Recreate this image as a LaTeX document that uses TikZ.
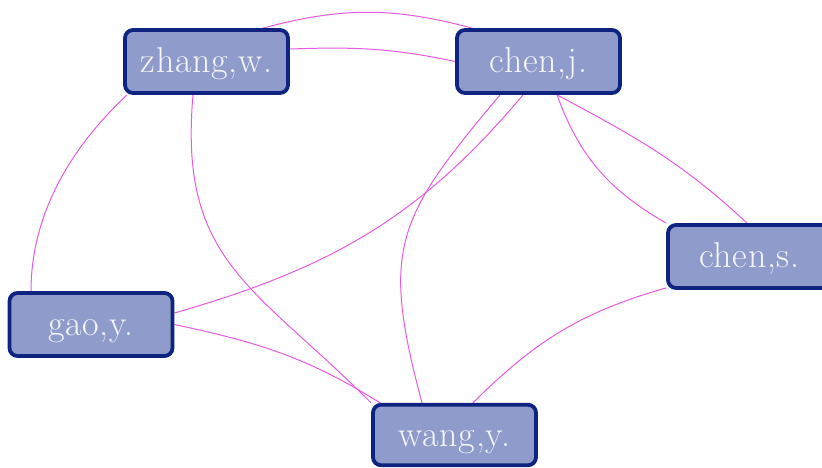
\documentclass[tikz,border=0pt]{standalone}
\usepackage{fontspec}
\newfontfamily\boxfont{Latin Modern Roman}[LetterSpace=2]
\usetikzlibrary{backgrounds}
\definecolor{boxfill}{RGB}{142,155,203}
\definecolor{boxline}{RGB}{14,36,128}
\definecolor{edgecol}{RGB}{232,90,225}
\definecolor{txt}{RGB}{245,245,250}
\begin{document}
\begin{tikzpicture}[x=1pt,y=1pt,
  author/.style={rectangle, rounded corners=8pt, fill=boxfill, draw=boxline,
    line width=3.8pt, minimum width=163pt, minimum height=63pt, inner sep=0pt,
    text=txt, font=\boxfont\fontsize{36}{38}\selectfont,
    text height=24pt, text depth=2pt},
  link/.style={draw=edgecol, line width=1pt}]
\useasboundingbox (0,0) rectangle (822,-468);
\clip (0,0) rectangle (822,-468);
\node[author] (zhang) at (206.5,-61.5) {zhang,w.};
\node[author] (chenj) at (538.5,-61.5) {chen,j.};
\node[author] (chens) at (749.5,-256.5) {chen,s.};
\node[author] (gao) at (91,-324.5) {gao,y.};
\node[author, minimum height=60.5pt] (wang) at (454.5,-435) {wang,y.};
\begin{scope}[on background layer]
\draw[link] ([xshift=56.5pt]zhang.north) to[out=15,in=165] ([xshift=-66.5pt]chenj.north);
\draw[link] ([yshift=12.5pt]zhang.east) to[out=2,in=168] (chenj.west);
\draw[link] ([xshift=4pt]zhang.south west) to[out=223,in=90,looseness=0.9] ([xshift=-60pt]gao.north);
\draw[link] ([xshift=-13.5pt]zhang.south) to[out=-95,in=135,looseness=1.2] (wang.north west);
\draw[link] ([xshift=-15.5pt]chenj.south) to[out=230,in=16] ([yshift=11.5pt]gao.east);
\draw[link] ([xshift=-38.5pt]chenj.south) to[out=230,in=105,looseness=1.3] ([xshift=-32.5pt]wang.north);
\draw[link] ([xshift=18.5pt]chenj.south) to[out=-70,in=150] (chens.north west);
\draw[link] ([xshift=18.5pt]chenj.south) to[out=-28,in=137] ([xshift=-2.5pt]chens.north);
\draw[link] ([yshift=2pt]chens.south west) to[out=196,in=45] ([xshift=18.5pt]wang.north);
\draw[link] (gao.east) to[out=-12,in=148] ([xshift=9pt]wang.north west);
\end{scope}
\end{tikzpicture}
\end{document}
